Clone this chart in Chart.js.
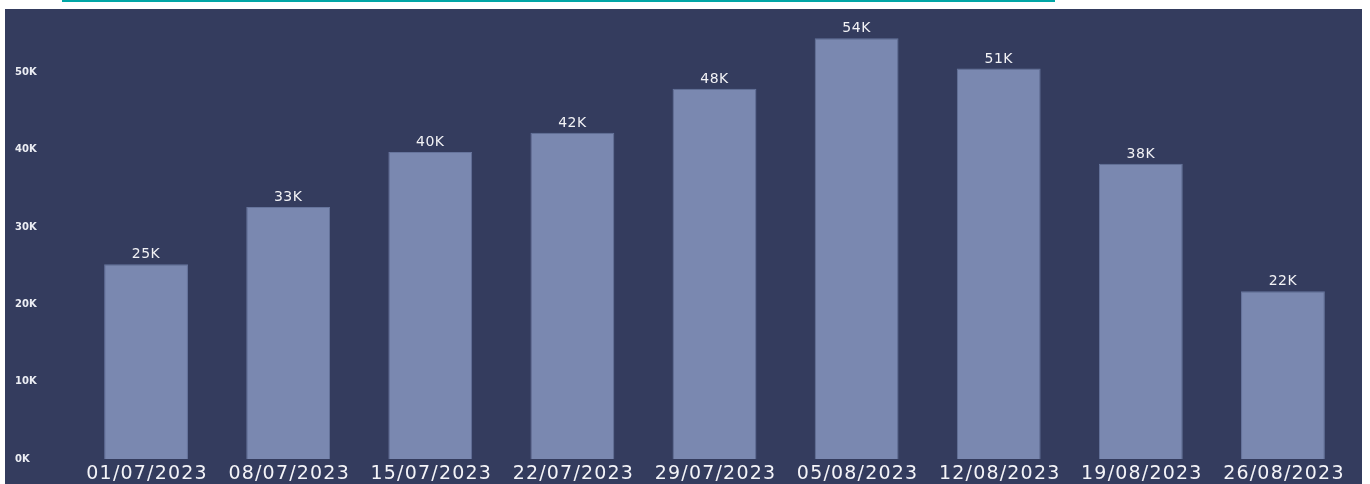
<!DOCTYPE html>
<html>
<head>
<meta charset="utf-8">
<script src="https://cdn.jsdelivr.net/npm/chart.js@4"></script>
<style>
  body { margin: 0; background: #ffffff; width: 1370px; height: 484px; overflow: hidden; position: relative; }
  .topline { position: absolute; left: 62px; top: 0; width: 993px; height: 2px; background: #00a6a6; }
  .panel { position: absolute; left: 5px; top: 9px; width: 1357px; height: 475px; background: #343c5e; }
</style>
</head>
<body>
<div class="topline"></div>
<div class="panel"><canvas id="weeklyChart" width="1357" height="475"></canvas></div>
<script>
        // Weekly values
        const weeks = ['01/07/2023', '08/07/2023', '15/07/2023', '22/07/2023', '29/07/2023',
                       '05/08/2023', '12/08/2023', '19/08/2023', '26/08/2023'];
        const totals = [25200, 32600, 39700, 42200, 47900, 54400, 50500, 38200, 21700];
        const yTicks = [0, 10000, 20000, 30000, 40000, 50000];

        function fmtK(v) {
            return Math.round(v / 1000) + 'K';
        }

        // values above the bars + the wide date labels under them
        const barLabels = {
            id: 'barLabels',
            afterDatasetsDraw(chart) {
                const ctx = chart.ctx;
                const meta = chart.getDatasetMeta(0);
                ctx.save();
                ctx.fillStyle = '#f2f2f5';
                ctx.font = '14px "DejaVu Sans", sans-serif';
                ctx.letterSpacing = '0.5px';
                ctx.textAlign = 'center';
                ctx.textBaseline = 'alphabetic';
                meta.data.forEach((bar, i) => {
                    ctx.fillText(fmtK(totals[i]), bar.x, bar.y - 6);
                });

                const xs = chart.scales.x;
                ctx.font = '19px "DejaVu Sans", sans-serif';
                ctx.letterSpacing = '1.2px';
                ctx.fillStyle = '#f4f4f8';
                weeks.forEach((w, i) => {
                    ctx.fillText(w, xs.getPixelForTick(i) + 1, xs.top + 20);
                });
                ctx.restore();
            }
        };

        const ctx = document.getElementById('weeklyChart').getContext('2d');
        const weeklyChart = new Chart(ctx, {
            type: 'bar',
            data: {
                labels: weeks,
                datasets: [{
                    data: totals,
                    backgroundColor: '#7a88b0',
                    borderColor: '#66749c',
                    borderWidth: 1,
                    barPercentage: 0.59,
                    categoryPercentage: 1.0
                }]
            },
            options: {
                responsive: false,
                animation: false,
                layout: {
                    padding: { top: 17, left: 10, right: 8, bottom: 0 }
                },
                plugins: {
                    legend: { display: false },
                    tooltip: { enabled: false }
                },
                scales: {
                    y: {
                        min: 0,
                        max: 56000,
                        grid: { display: false },
                        border: { display: false },
                        afterBuildTicks(scale) {
                            scale.ticks = yTicks.map(v => ({ value: v }));
                        },
                        afterFit(scale) {
                            scale.width = 60;
                        },
                        ticks: {
                            crossAlign: 'far',
                            color: '#eceef4',
                            font: { family: '"DejaVu Sans", sans-serif', size: 10, weight: 'bold' },
                            callback: v => fmtK(v)
                        }
                    },
                    x: {
                        grid: { display: false },
                        border: { display: false },
                        afterFit(scale) {
                            scale.height = 25;
                        },
                        ticks: {
                            display: false
                        }
                    }
                }
            },
            plugins: [barLabels]
        });
</script>
</body>
</html>
